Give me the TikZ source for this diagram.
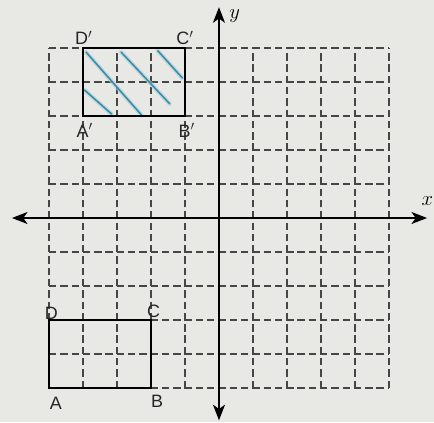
\documentclass[tikz,border=0pt]{standalone}
\usepackage{fontspec}
\newfontfamily\labelfont{Liberation Sans}
\usetikzlibrary{arrows.meta}
\definecolor{paper}{RGB}{232,232,228}
\definecolor{gridgray}{RGB}{70,70,70}
\definecolor{hatchblue}{RGB}{60,140,165}
\definecolor{hatchglow}{RGB}{170,205,220}
\begin{document}
\begin{tikzpicture}[x=1cm,y=1cm,
  gridline/.style={draw=gridgray, line width=1.2pt, dash pattern=on 6.2pt off 3.25pt},
  axis/.style={draw=black, line width=1.6pt, {Stealth[length=13pt,width=10pt,inset=3.5pt]}-{Stealth[length=13pt,width=10pt,inset=3.5pt]}},
  figline/.style={draw=black, line width=1.6pt},
  hatch/.style={draw=hatchblue, line width=1.3pt, line cap=round},
  hatchbg/.style={draw=hatchglow, line width=3.5pt, line cap=round, opacity=0.6},
  lbl/.style={font=\labelfont\fontsize{15}{17}\selectfont, inner sep=0.5pt, text=black!85}]
\useasboundingbox[fill=paper] (-6.441,-6.0) rectangle (6.324,6.412);
% dashed grid
\foreach \i in {-5,...,5} {
  \draw[gridline] (\i,-5) -- (\i,5);
  \draw[gridline] (-5,\i) -- (5,\i);
}
% corners
\coordinate (Ap) at (-4,3);
\coordinate (Bp) at (-1,3);
\coordinate (Cp) at (-1,5);
\coordinate (Dp) at (-4,5);
\coordinate (A) at (-5,-5);
\coordinate (B) at (-2,-5);
\coordinate (C) at (-2,-3);
\coordinate (D) at (-5,-3);
% hatch lines
\coordinate (h1a) at (-3.91,4.88); \coordinate (h1b) at (-2.28,3.03);
\coordinate (h2a) at (-2.88,4.88); \coordinate (h2b) at (-1.45,3.36);
\coordinate (h3a) at (-1.80,4.92); \coordinate (h3b) at (-1.08,4.12);
\coordinate (h4a) at (-3.95,3.76); \coordinate (h4b) at (-3.16,3.06);
\foreach \s in {1,2,3,4} {
  \draw[hatchbg] (h\s a) -- (h\s b);
  \draw[hatch] (h\s a) -- (h\s b);
}
% rectangles
\draw[figline] (Ap) -- (Bp) -- (Cp) -- (Dp) -- cycle;
\draw[figline] (A) -- (B) -- (C) -- (D) -- cycle;
% axes
\coordinate (xl) at (-6.09,0);
\coordinate (xr) at (6.12,0);
\coordinate (yt) at (0,6.2);
\coordinate (yb) at (0,-5.95);
\draw[axis] (xl) -- (xr);
\draw[axis] (yt) -- (yb);
\node[font=\fontsize{17}{19}\selectfont, anchor=west] (ylab) at (0.18,5.95) {$y$};
\node[font=\fontsize{17}{19}\selectfont, anchor=east, inner sep=0.5pt] (xlab) at (6.32,0.5) {$x$};
% labels
\node[lbl, anchor=south] (lDp) at (-3.98,5.08) {D$'$};
\node[lbl, anchor=south] (lCp) at (-1.0,5.08) {C$'$};
\node[lbl, anchor=north] (lAp) at (-3.95,2.8) {A$'$};
\node[lbl, anchor=north] (lBp) at (-0.95,2.8) {B$'$};
\node[lbl, anchor=south] (lD) at (-4.93,-3.0) {D};
\node[lbl, anchor=south] (lC) at (-1.92,-2.95) {C};
\node[lbl, anchor=north] (lA) at (-4.8,-5.25) {A};
\node[lbl, anchor=north] (lB) at (-1.82,-5.2) {B};
\end{tikzpicture}
\end{document}
